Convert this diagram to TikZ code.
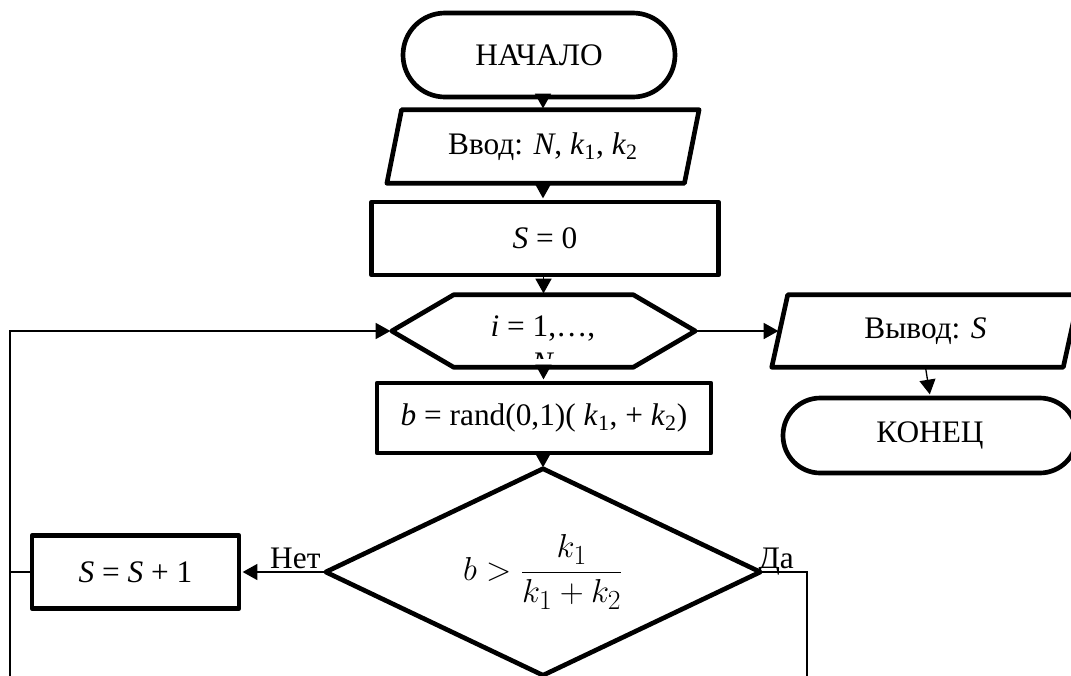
\documentclass[tikz,border=0pt]{standalone}
\usepackage{fontspec}
\setmainfont{Liberation Serif}
\usetikzlibrary{arrows.meta}
\newcommand{\drawpara}[2]{\draw[outline] ([xshift=#2]#1.north west) -- ([xshift=#2]#1.north east) -- ([xshift=-#2]#1.south east) -- ([xshift=-#2]#1.south west) -- cycle;}
\begin{document}
\begin{tikzpicture}[x=0.75pt,y=-0.75pt,
  font=\fontsize{23.5}{29}\selectfont,
  rectbox/.style={draw=black,line width=3.5pt,line join=round,inner sep=0pt},
  term/.style={draw=black,line width=3.5pt,inner sep=0pt},
  ghost/.style={inner sep=0pt},
  outline/.style={draw=black,line width=3.5pt,line join=round},
  conn/.style={line width=1pt},
  arr/.style={line width=1pt,-{Triangle[length=11pt,width=12pt]},shorten >=1pt},
  lbl/.style={inner sep=0pt}]
\useasboundingbox (0,0) rectangle (1071,675);
\fill[white] (0,0) rectangle (1071,675);
\clip (0,0) rectangle (1071,675);

% nodes
\node[term,rounded corners=31.5pt,minimum width=204pt,minimum height=63pt] (start) at (539,55) {НАЧАЛО};

\node[ghost,minimum width=222.75pt,minimum height=54.75pt] (in) at (543,146.5) {Ввод: \textit{N}, \textit{k}\textsubscript{1}, \textit{k}\textsubscript{2}};
\drawpara{in}{5.5pt}

\node[rectbox,minimum width=260.25pt,minimum height=54.75pt] (s0) at (545,238.5) {\textit{S} = 0};

\node[ghost,minimum width=227.25pt,minimum height=54pt] (hex) at (543.5,331) {};
\draw[outline] (hex.west) -- ([xshift=46.5pt]hex.north west) -- ([xshift=-46.5pt]hex.north east) -- (hex.east) -- ([xshift=-46.5pt]hex.south east) -- ([xshift=46.5pt]hex.south west) -- cycle;
\node[lbl,anchor=base] (hexl) at (543,336) {\textit{i} = 1,…,};
\begin{scope}
\clip (400,300) rectangle (690,358);
\node[lbl,anchor=base] (hexn) at (543,373) {\textit{N}};
\end{scope}

\node[rectbox,minimum width=250.5pt,minimum height=52.5pt] (rand) at (544,418) {\textit{b} = rand(0,1)( \textit{k}\textsubscript{1}, + \textit{k}\textsubscript{2})};

\node[ghost,minimum width=325.5pt,minimum height=154.5pt] (dia) at (543,572) {\fontsize{28}{32}\selectfont$\displaystyle b > \frac{k_1}{k_1 + k_2}$};
\draw[outline] (dia.north) -- (dia.east) -- (dia.south) -- (dia.west) -- cycle;

\node[rectbox,minimum width=155.25pt,minimum height=54.75pt] (ss) at (135.5,572) {\textit{S} = \textit{S} + 1};

\node[ghost,minimum width=218.25pt,minimum height=54pt] (out) at (925.5,331) {Вывод: \textit{S}};
\drawpara{out}{6pt}

\node[term,rounded corners=28pt,minimum width=220.5pt,minimum height=56.25pt] (end) at (930,435.5) {КОНЕЦ};

% labels
\node[lbl,anchor=base east] (net) at ([xshift=-3.75pt,yshift=3pt]dia.west) {Нет};
\node[lbl,anchor=base west] (da) at ([xshift=-1.5pt,yshift=3pt]dia.east) {Да};

% connectors
\draw[arr] (in.north |- start.south) -- (in.north);
\draw[arr] (in.south) -- (in.south |- s0.north);
\draw[arr] (s0.south -| hex.north) -- (hex.north);
\draw[arr] (hex.south) -- (hex.south |- rand.north);
\draw[arr] (rand.south -| dia.north) -- (dia.north);
\draw[arr] (hex.east) -- (out.west);
\draw[arr] (out.south) -- (end.north);
\draw[arr] (dia.west) -- (ss.east);
\coordinate (dab) at (807,690);
\draw[conn] (dia.east) -| (dab);
\coordinate (loopb) at (10,690);
\draw[conn] (ss.west) -- (ss.west -| loopb);
\draw[arr] (loopb) |- (hex.west);
\end{tikzpicture}
\end{document}
